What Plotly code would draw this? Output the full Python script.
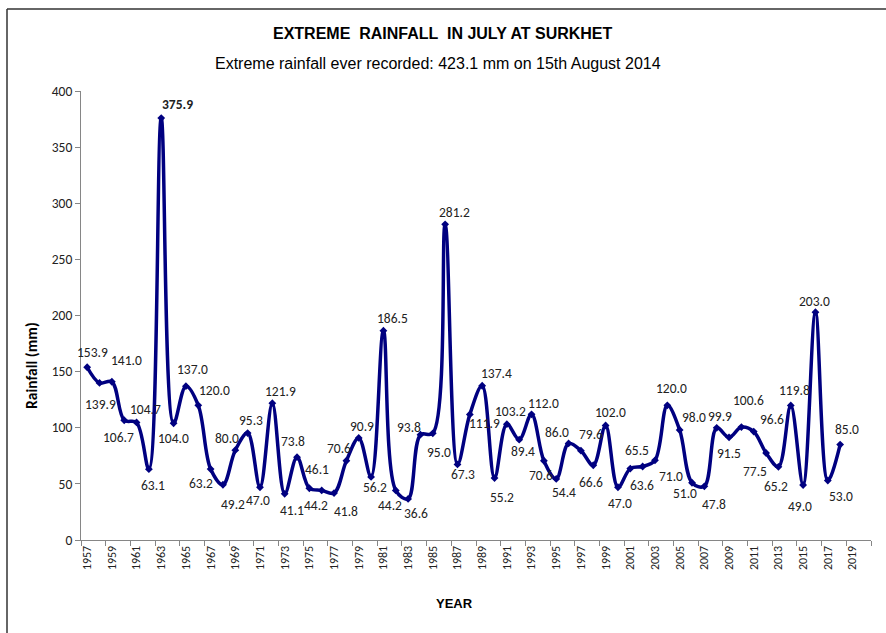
import plotly.graph_objects as go

years = list(range(1957, 2019))
rainfall = [153.9, 139.9, 141.0, 106.7, 104.7, 63.1, 375.9, 104.0, 137.0, 120.0,
            63.2, 49.2, 80.0, 95.3, 47.0, 121.9, 41.1, 73.8, 46.1, 44.2,
            41.8, 70.6, 90.9, 56.2, 186.5, 44.2, 36.6, 93.8, 95.0, 281.2,
            67.3, 111.9, 137.4, 55.2, 103.2, 89.4, 112.0, 70.6, 54.4, 86.0,
            79.6, 66.6, 102.0, 47.0, 63.6, 65.5, 71.0, 120.0, 98.0, 51.0,
            47.8, 99.9, 91.5, 100.6, 96.6, 77.5, 65.2, 119.8, 49.0, 203.0,
            53.0, 85.0]
tick_years = list(range(1957, 2020, 2))

# data-label offsets in pixels (right, down) from each point, as placed in the reference
label_dx = [5, 1, 15, -6, 9, 4, 16, 0, 7, 16,
            -10, 10, -8, 3, -2, 8, 7, -4, 8, -6,
            12, -7, 3, 4, 9, -6, 8, -11, 6, 9,
            6, 15, 14, 7, 4, 4, 12, -3, 8, -12,
            10, -2, 5, 2, 12, -6, 16, 4, 14, -7,
            10, 3, 0, 7, 18, -11, -2, 4, -3, -1,
            13, 7]
label_dy = [-15, 22, -21, 17, -13, 16, -14, 15, -17, -15,
            14, 20, -12, -13, 13, -12, 17, -16, -19, 15,
            18, -12, -11, 11, -12, 15, 15, -7, 19, -12,
            10, 9, -12, 19, -13, 12, -11, 15, 14, -11,
            -16, 17, -13, 16, 17, -16, 16, -17, -13, 11,
            18, -11, 16, -27, -12, 18, 20, -15, 21, -11,
            16, -15]

peak = max(rainfall)

CAL = "Carlito, Lato, sans-serif"
ARN = "Liberation Sans, Arial, sans-serif"

fig = go.Figure()
fig.add_trace(go.Scatter(
    x=years, y=rainfall, mode="lines+markers",
    line=dict(color="#000080", width=3.5, shape="spline", smoothing=1.0),
    marker=dict(symbol="diamond", size=6, color="#000080"),
    cliponaxis=False, showlegend=False, hoverinfo="x+y",
))

L, R, T, B = 81, 15, 91, 93
W, H = 886, 633
pw, ph = W - L - R, H - T - B

def px_x(p):
    return (p - L) / pw

def px_y(p):
    return (H - B - p) / ph

annotations = []
for yr, v, dx, dy in zip(years, rainfall, label_dx, label_dy):
    txt = f"<b>{v:.1f}</b>" if v == peak else f"{v:.1f}"
    annotations.append(dict(
        x=yr, y=v, xref="x", yref="y", text=txt, showarrow=False,
        xanchor="center", yanchor="middle", xshift=dx, yshift=-dy,
        font=dict(family=CAL, size=13.5, color="#222222"),
    ))

annotations += [
    dict(text="<b>EXTREME  RAINFALL  IN JULY AT SURKHET</b>", xref="paper", yref="paper",
         x=px_x(443), y=px_y(33), showarrow=False, xanchor="center", yanchor="middle",
         font=dict(family=ARN, size=16, color="black")),
    dict(text="Extreme rainfall ever recorded: 423.1 mm on 15th August 2014", xref="paper", yref="paper",
         x=px_x(438), y=px_y(63), showarrow=False, xanchor="center", yanchor="middle",
         font=dict(family=ARN, size=16, color="black")),
    dict(text="<b>Rainfall (mm)</b>", xref="paper", yref="paper", textangle=-90,
         x=px_x(31), y=px_y(366), showarrow=False, xanchor="center", yanchor="middle",
         font=dict(family=CAL, size=15.5, color="black")),
    dict(text="<b>YEAR</b>", xref="paper", yref="paper",
         x=px_x(454), y=px_y(603), showarrow=False, xanchor="center", yanchor="middle",
         font=dict(family=ARN, size=13, color="black")),
]

fig.update_layout(
    width=W, height=H,
    margin=dict(l=L, r=R, t=T, b=B, autoexpand=False),
    paper_bgcolor="white", plot_bgcolor="white",
    xaxis=dict(
        range=[1956.5, 2020.5], tickmode="array", tickvals=tick_years,
        ticktext=[str(y) for y in tick_years], tickangle=-90,
        ticks="", showgrid=False, zeroline=False,
        showline=True, linecolor="#868686", linewidth=1,
        tickfont=dict(family=CAL, size=12, color="#222222"),
        minor=dict(tickmode="array", tickvals=[1956.5 + 2 * k for k in range(33)],
                   ticks="outside", ticklen=5, tickcolor="#868686", showgrid=False),
    ),
    yaxis=dict(
        range=[0, 400], dtick=50, ticks="outside", ticklen=5, tickcolor="#868686",
        showgrid=False, zeroline=False, showline=True, linecolor="#868686", linewidth=1,
        tickfont=dict(family=CAL, size=13.5, color="#222222"),
    ),
    annotations=annotations,
    shapes=[
        dict(type="line", xref="paper", yref="paper", x0=px_x(7), x1=px_x(900),
             y0=px_y(9), y1=px_y(9), line=dict(color="#333333", width=1.5)),
        dict(type="line", xref="paper", yref="paper", x0=px_x(7), x1=px_x(7),
             y0=px_y(9), y1=px_y(650), line=dict(color="#333333", width=1.5)),
    ],
)

fig.write_html("out.html", config={"displayModeBar": False},
               post_script="document.body.style.margin='0';")
